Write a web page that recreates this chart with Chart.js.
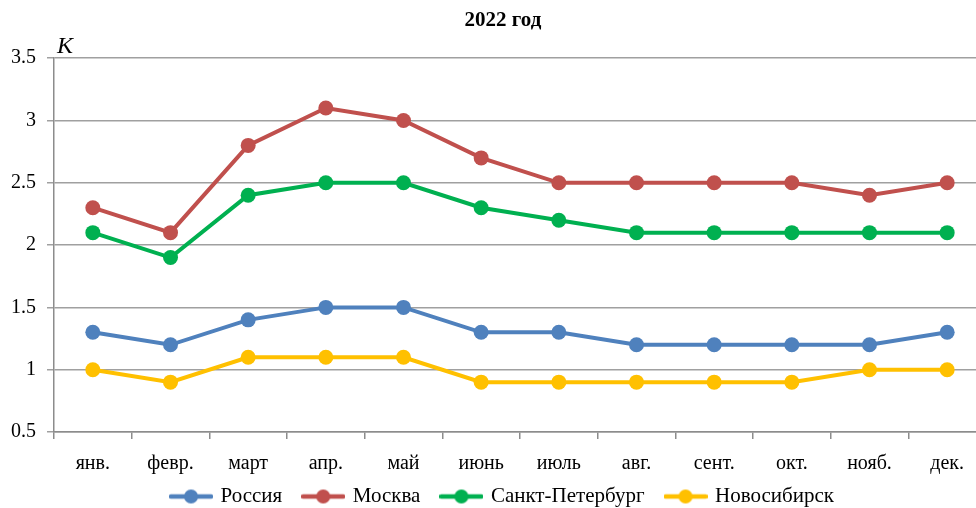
<!DOCTYPE html>
<html>
<head>
<meta charset="utf-8">
<script src="https://cdn.jsdelivr.net/npm/chart.js@4"></script>
<style>
    html, body { margin: 0; padding: 0; background: #fff; overflow: hidden; width: 976px; height: 508px; }
    #wrap { width: 1010px; height: 508px; }
</style>
</head>
<body>
<div id="wrap"><canvas id="chart"></canvas></div>
<script>
    // 데이터
    const months = ['янв.', 'февр.', 'март', 'апр.', 'май', 'июнь', 'июль', 'авг.', 'сент.', 'окт.', 'нояб.', 'дек.'];
    const russia = [1.3, 1.2, 1.4, 1.5, 1.5, 1.3, 1.3, 1.2, 1.2, 1.2, 1.2, 1.3];
    const moscow = [2.3, 2.1, 2.8, 3.1, 3.0, 2.7, 2.5, 2.5, 2.5, 2.5, 2.4, 2.5];
    const spb = [2.1, 1.9, 2.4, 2.5, 2.5, 2.3, 2.2, 2.1, 2.1, 2.1, 2.1, 2.1];
    const novosib = [1.0, 0.9, 1.1, 1.1, 1.1, 0.9, 0.9, 0.9, 0.9, 0.9, 1.0, 1.0];
    const yTicks = [0.5, 1, 1.5, 2, 2.5, 3, 3.5];

    const serif = '"Liberation Serif", "Times New Roman", serif';

    // 범례용 선+점 마커
    function legendMarker(color) {
        const c = document.createElement('canvas');
        c.width = 44; c.height = 16;
        const ctx = c.getContext('2d');
        ctx.strokeStyle = color;
        ctx.lineWidth = 4.5;
        ctx.lineCap = 'round';
        ctx.beginPath();
        ctx.moveTo(2, 8); ctx.lineTo(42, 8);
        ctx.stroke();
        ctx.fillStyle = color;
        ctx.beginPath();
        ctx.arc(22, 8, 7, 0, Math.PI * 2);
        ctx.fill();
        return c;
    }

    function series(label, data, color) {
        return {
            label: label,
            data: data,
            borderColor: color,
            backgroundColor: color,
            borderWidth: 4,
            pointRadius: 7.5,
            pointHoverRadius: 7.5,
            pointBorderWidth: 0,
            pointStyle: 'circle',
            tension: 0,
            marker: legendMarker(color)
        };
    }

    // K 라벨
    const kLabel = {
        id: 'kLabel',
        afterDraw(chart) {
            const ctx = chart.ctx;
            ctx.save();
            ctx.font = 'italic 24px ' + serif;
            ctx.fillStyle = '#000';
            ctx.textBaseline = 'alphabetic';
            ctx.fillText('K', chart.chartArea.left + 3, chart.chartArea.top - 5);
            ctx.restore();
        }
    };

    // 축 라벨이 잘리지 않도록 영역 확장
    const noClip = {
        id: 'noClip',
        afterLayout(chart) {
            chart.scales.y.left = 0;
            chart.scales.x.bottom = chart.height;
        }
    };

    new Chart(document.getElementById('chart'), {
        type: 'line',
        data: {
            labels: months,
            datasets: [
                series('Россия', russia, '#4F81BD'),
                series('Москва', moscow, '#C0504D'),
                series('Санкт-Петербург', spb, '#00B050'),
                series('Новосибирск', novosib, '#FFC000')
            ]
        },
        options: {
            responsive: true,
            maintainAspectRatio: false,
            animation: false,
            layout: { padding: { top: 6, left: 20, right: 24, bottom: -9 } },
            plugins: {
                title: {
                    display: true,
                    text: '2022 год',
                    color: '#000',
                    font: { family: serif, size: 21, weight: 'bold' },
                    padding: { top: 2, bottom: 25 }
                },
                legend: {
                    position: 'bottom',
                    labels: {
                        usePointStyle: true,
                        pointStyleWidth: 38,
                        color: '#000',
                        padding: 22,
                        font: { family: serif, size: 21 },
                        generateLabels(chart) {
                            return chart.data.datasets.map((ds, i) => ({
                                text: ds.label,
                                pointStyle: ds.marker,
                                fillStyle: ds.borderColor,
                                strokeStyle: ds.borderColor,
                                lineWidth: 0,
                                fontColor: '#000',
                                hidden: false,
                                datasetIndex: i
                            }));
                        }
                    }
                },
                tooltip: { enabled: false }
            },
            scales: {
                x: {
                    offset: true,
                    grid: { offset: true, drawOnChartArea: false, drawTicks: true, tickLength: 7, color: '#8c8c8c', lineWidth: 1.5 },
                    border: { color: '#8c8c8c', width: 1.5 },
                    ticks: { color: '#000', font: { family: serif, size: 20 }, padding: 13, maxRotation: 0 },
                    afterFit(scale) { scale.height = 32; }
                },
                y: {
                    min: 0.5,
                    max: 3.5,
                    afterBuildTicks(scale) {
                        scale.ticks = yTicks.map(v => ({ value: v }));
                    },
                    grid: { color: '#a0a0a0', lineWidth: 1.5, tickLength: 7 },
                    border: { color: '#8c8c8c', width: 1.5 },
                    ticks: {
                        color: '#000',
                        font: { family: serif, size: 20 },
                        padding: 11,
                        callback: v => String(v)
                    },
                    afterFit(scale) { scale.width = 34; }
                }
            }
        },
        plugins: [kLabel, noClip]
    });
</script>
</body>
</html>
